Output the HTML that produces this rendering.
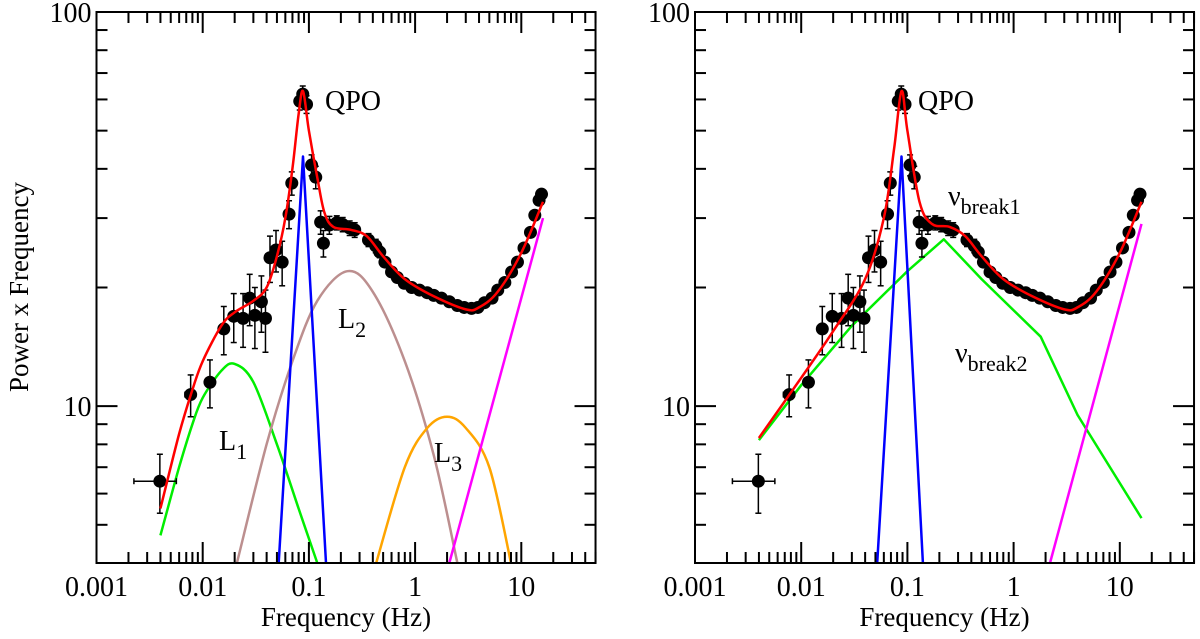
<!DOCTYPE html>
<html><head><meta charset="utf-8"><style>
body{margin:0;background:#fff;}
svg{display:block;}
svg text{font-family:"Liberation Serif","DejaVu Serif",serif;}
</style></head><body>
<svg id="chart" width="1200" height="639" viewBox="0 0 1200 639" font-family="Liberation Serif, serif"></svg>
<script>
const freqs=[0.00395,0.0077,0.0117,0.0158,0.0196,0.024,0.0277,0.031,0.0357,0.039,0.043,0.049,0.056,0.065,0.069,0.082,0.0875,0.095,0.106,0.116,0.129,0.137,0.156,0.183,0.208,0.242,0.27,0.364,0.426,0.465,0.52,0.60,0.68,0.79,0.93,1.1,1.3,1.5,1.77,2.1,2.5,2.9,3.4,3.9,4.5,5.3,6.0,7.0,8.1,9.2,10.6,12.2,13.4,14.7,15.5];
const powers=[6.45,10.7,11.5,15.7,16.9,16.7,18.8,17.0,18.4,16.7,23.8,24.9,23.2,30.7,36.8,59.4,61.9,58.3,40.9,38.1,29.3,25.9,28.8,29.2,28.9,28.3,28.0,26.4,25.5,24.6,23.2,21.9,21.2,20.5,20.0,19.7,19.4,19.1,18.8,18.4,18.0,17.8,17.7,17.8,18.3,18.8,19.7,20.6,21.9,23.2,25.2,27.6,30.5,33.3,34.5];
const powerErr=[1.1,1.3,1.6,2.2,2.4,2.6,2.8,3,3,3,3.2,3,3,2.5,2.5,3,3,3,2.5,2.5,2,2,1.5,1.2,1.2,1.2,1.2,1,1,0.8,0.6,0.5,0.5,0.5,0.5,0.5,0.4,0.4,0.4,0.4,0.4,0.4,0.4,0.4,0.4,0.4,0.4,0.5,0.5,0.5,0.5,0.5,0.5,0.6,0.6];
const freqErrLo=[0.0017,0.0009,0.0011];
const L_totF=[0.004,0.006,0.008,0.01,0.015,0.02,0.03,0.04,0.05,0.06,0.07,0.08,0.088,0.1,0.12,0.14,0.17,0.25,0.35,0.5,0.8,1.5,3,4,6,10,16];
const L_totP=[5.5,8.5,11,13,16,17.3,18.5,20,24,30,40,55,63,50,38,31,28.5,28,27,24,21,19,17.6,17.8,19.5,24.5,33];
const L1F=[0.004,0.006,0.008,0.01,0.015,0.02,0.03,0.05,0.08,0.12];
const L1P=[4.7,7,9,10.5,12.3,12.8,11.5,8,5.5,4];
const qpoF=[0.052,0.088,0.145];
const qpoP=[4,43,4];
const L2F=[0.021,0.04,0.07,0.12,0.23,0.4,0.8,1.5,2.5];
const L2P=[4,8,13,18.5,22,19.5,13,7.5,4];
const L3F=[0.43,0.8,1.3,2,3,5,8];
const L3P=[4,7,8.8,9.4,8.8,7,4];
const plF=[2.1,16];
const plP=[4,30];
const R_totF=[0.004,0.01,0.02,0.04,0.06,0.075,0.088,0.1,0.13,0.17,0.25,0.35,0.5,0.8,1.5,3,4,6,10,16];
const R_totP=[8.3,11.8,15.5,21,30,45,63,50,33,29,28.5,27,24,21,19,17.6,17.8,19.5,24.5,33];
const bknF=[0.004,0.01,0.03,0.1,0.22,0.5,1.8,4,16];
const bknP=[8.2,11.3,16,22,26.5,21,15,9.5,5.2];
const RqpoF=[0.052,0.088,0.14];
const RqpoP=[4,43,4];
const RplF=[2.2,16];
const RplP=[4,29];
const xTicks=["0.001","0.01","0.1","1","10"];
const yTicks=["10","100"];

const NS="http://www.w3.org/2000/svg";
const svg=document.getElementById('chart');
function mk(t,a,p){const e=document.createElementNS(NS,t);for(const k in a)e.setAttribute(k,a[k]);(p||svg).appendChild(e);return e;}
const TOP=12,BOT=563,YMIN=4,YMAX=100;
const FONT='"Liberation Serif", serif';
function panel(x0,name){
  const x1=x0+106.2*Math.log10(50000);
  const g=mk('g',{});
  
  
  const X=f=>x0+106.2*(Math.log10(f)+3);
  const Y=v=>TOP+(BOT-TOP)*(Math.log10(YMAX)-Math.log10(v))/(Math.log10(YMAX)-Math.log10(YMIN));
  return {g,X,Y,x0,x1};
}
function txt(p,a,s){const e=mk('text',Object.assign({'font-family':FONT},a),p);e.textContent=s;return e;}
function axes(P){
  const {g,X,Y,x0,x1}=P;
  const ax=mk('g',{stroke:'#000','stroke-width':2},g);
  
  
  mk('rect',{x:x0,y:TOP,width:x1-x0,height:BOT-TOP,fill:'none'},ax);
  for(let d=-3;d<=1;d++)for(let m=1;m<=9;m++){const f=m*Math.pow(10,d);if(f>50)continue;const x=X(f);const L=m==1?21:11;
    mk('line',{x1:x,y1:BOT,x2:x,y2:BOT-L},ax);mk('line',{x1:x,y1:TOP,x2:x,y2:TOP+L},ax);}
  for(let d=0;d<=1;d++)for(let m=1;m<=9;m++){const v=m*Math.pow(10,d);if(v<YMIN||v>=100)continue;const y=Y(v);const L=m==1?21:11;
    mk('line',{x1:x0,y1:y,x2:x0+L,y2:y},ax);mk('line',{x1:x1,y1:y,x2:x1-L,y2:y},ax);}
  xTicks.forEach(t=>{const e=txt(g,{x:X(parseFloat(t)),y:596,'font-size':28,'text-anchor':'middle'},t);
    
    });
  yTicks.forEach(t=>{const e=txt(g,{x:x0-5,y:Y(parseFloat(t))+10,'font-size':28,'text-anchor':'end'},t);
    
    });
  const xl=txt(g,{x:(x0+x1)/2,y:626,'font-size':27,'text-anchor':'middle'},'Frequency (Hz)');
  
  
}
function line(P,F,V,color,name,smooth){
  const p=F.map((f,i)=>[P.X(f),P.Y(V[i])]);
  let d='M'+p[0][0].toFixed(1)+','+p[0][1].toFixed(1);
  for(let i=0;i<p.length-1;i++){
    if(!smooth){d+=' L'+p[i+1][0].toFixed(1)+','+p[i+1][1].toFixed(1);continue;}
    const p0=p[i-1]||p[i],p1=p[i],p2=p[i+1],p3=p[i+2]||p[i+1];
    const c1=[p1[0]+(p2[0]-p0[0])/6,p1[1]+(p2[1]-p0[1])/6];
    const c2=[p2[0]-(p3[0]-p1[0])/6,p2[1]-(p3[1]-p1[1])/6];
    d+=' C'+c1.map(v=>v.toFixed(1)).join(',')+' '+c2.map(v=>v.toFixed(1)).join(',')+' '+p2[0].toFixed(1)+','+p2[1].toFixed(1);
  }
  const e=mk('path',{d:d,fill:'none',stroke:color,'stroke-width':2.5,'stroke-linejoin':'round'},P.g);
  
  
}
function points(P){
  const g=mk('g',{},P.g);
  
  
  freqs.forEach((f,i)=>{const x=P.X(f),y=P.Y(powers[i]);
    const y1=P.Y(powers[i]+powerErr[i]),y2=P.Y(powers[i]-powerErr[i]);
    mk('line',{x1:x,y1:y1,x2:x,y2:y2,stroke:'#000','stroke-width':1.5},g);
    mk('line',{x1:x-3,y1:y1,x2:x+3,y2:y1,stroke:'#000','stroke-width':1.5},g);
    mk('line',{x1:x-3,y1:y2,x2:x+3,y2:y2,stroke:'#000','stroke-width':1.5},g);
    if(i<freqErrLo.length){const xa=P.X(f-freqErrLo[i]),xb=P.X(f+freqErrLo[i]);
      mk('line',{x1:xa,y1:y,x2:xb,y2:y,stroke:'#000','stroke-width':1.5},g);
      mk('line',{x1:xa,y1:y-3,x2:xa,y2:y+3,stroke:'#000','stroke-width':1.5},g);
      mk('line',{x1:xb,y1:y-3,x2:xb,y2:y+3,stroke:'#000','stroke-width':1.5},g);}
    const c=mk('circle',{cx:x,cy:y,r:6.5,fill:'#000'},g);
    
    
  });
}
function label(P,x,y,s,sub,name){
  const t=mk('text',{x:x,y:y,'font-size':28,'font-family':FONT},P.g);
  
  
  const a=mk('tspan',{},t);a.textContent=s;
  if(sub){const b=mk('tspan',{'font-size':22,dy:9},t);b.textContent=sub;}
}
const A=panel(96.5,'left-panel');
line(A,L1F,L1P,'#00ee00','l1-component',true);
line(A,L2F,L2P,'#bc8f8f','l2-component',true);
line(A,L3F,L3P,'#ffa500','l3-component',true);
line(A,qpoF,qpoP,'#0000ff','qpo-component',false);
line(A,plF,plP,'#ff00ff','powerlaw-component',false);
points(A);
line(A,L_totF,L_totP,'#ff0000','total-model',true);
axes(A);
label(A,325,110,'QPO','','qpo-label');
label(A,338,328,'L','2','l2-label');
label(A,219,450,'L','1','l1-label');
label(A,434,462,'L','3','l3-label');
const yl=txt(svg,{x:0,y:0,'font-size':27,'text-anchor':'middle',transform:'translate(28,287) rotate(-90)'},'Power x Frequency');



const B=panel(695,'right-panel');
line(B,bknF,bknP,'#00ee00','broken-powerlaw',false);
line(B,RqpoF,RqpoP,'#0000ff','qpo-component',false);
line(B,RplF,RplP,'#ff00ff','powerlaw-component',false);
points(B);
line(B,R_totF,R_totP,'#ff0000','total-model',true);
axes(B);
label(B,918,110,'QPO','','qpo-label');
label(B,948,205,'ν','break1','nu-break1-label');
label(B,955,362,'ν','break2','nu-break2-label');
</script>
</body></html>
